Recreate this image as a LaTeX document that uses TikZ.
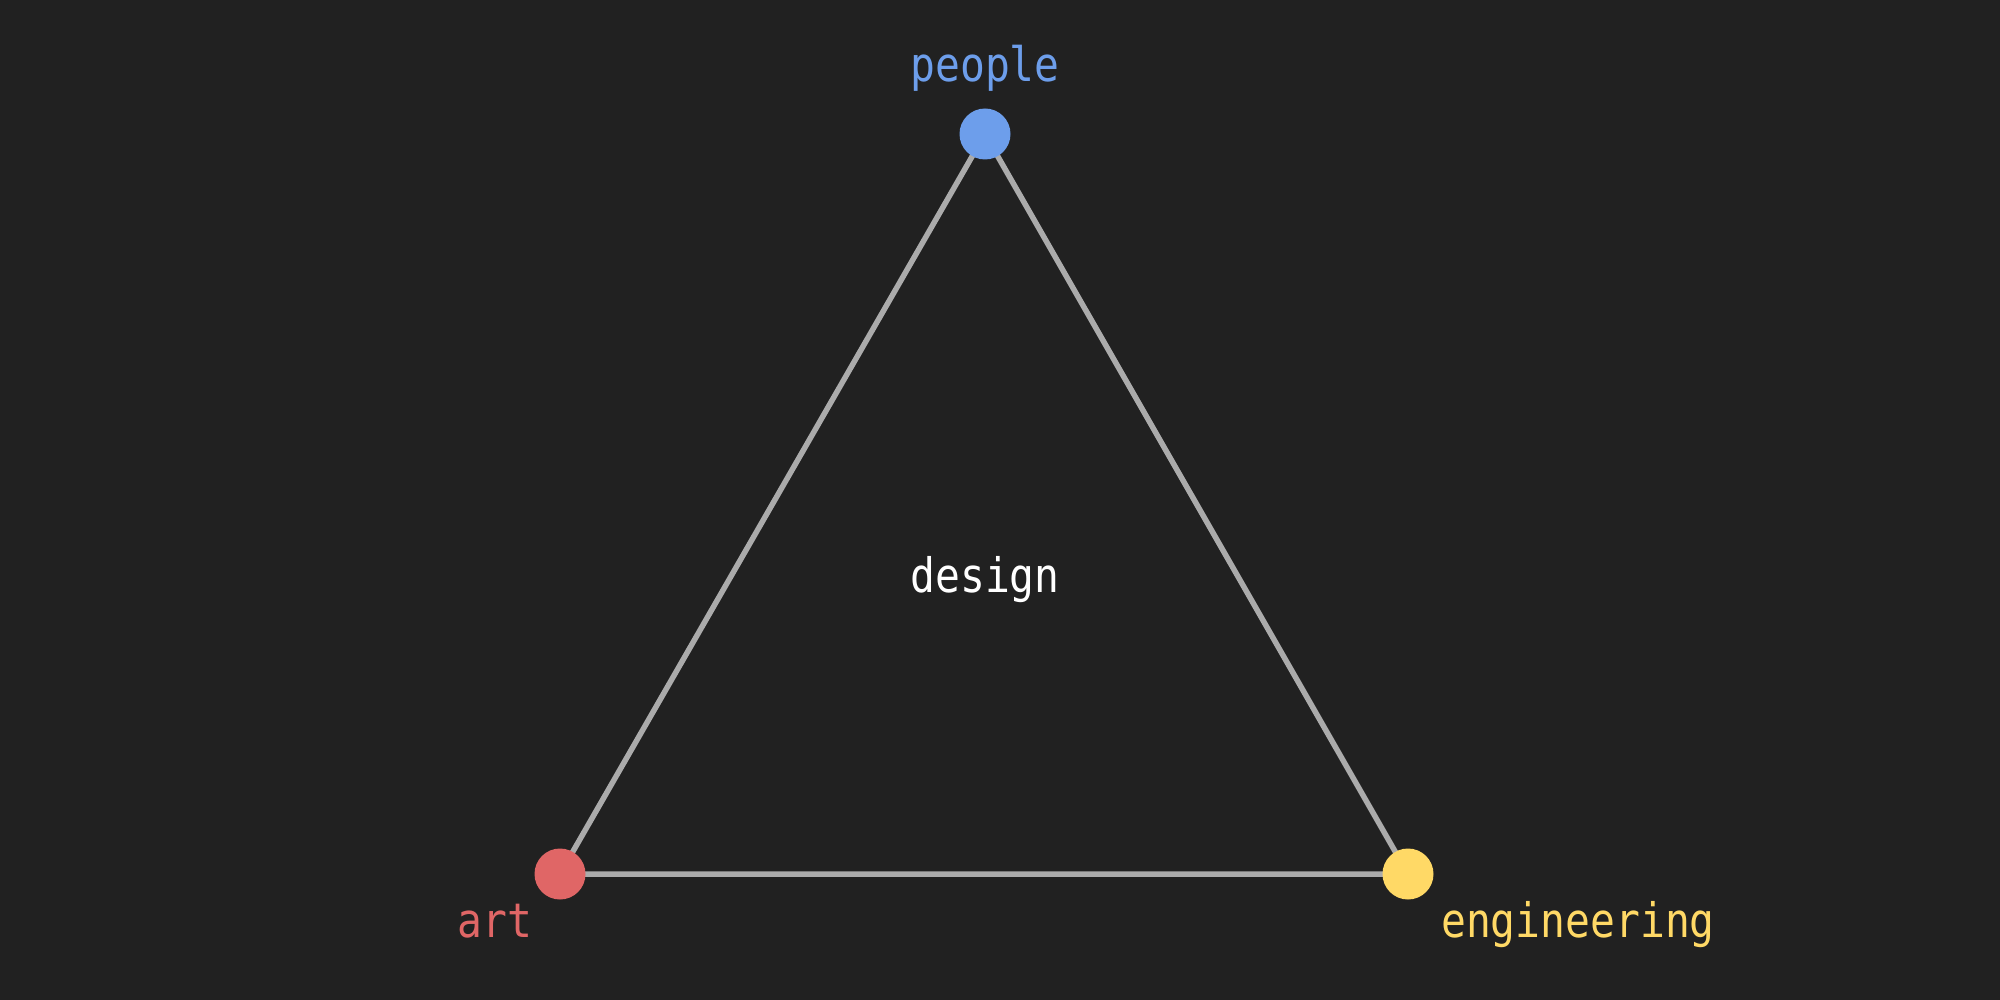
\documentclass[tikz,border=0pt]{standalone}
\usepackage{fontspec}
\newfontfamily\monofont[FakeStretch=0.87]{DejaVu Sans Mono}
\definecolor{bg}{HTML}{212121}
\definecolor{edgec}{HTML}{ABABAB}
\definecolor{cblue}{HTML}{6D9EEB}
\definecolor{cred}{HTML}{E06666}
\definecolor{cyel}{HTML}{FFD966}
\pgfdeclarelayer{edges}
\pgfsetlayers{edges,main}
\tikzset{
  vertex/.style={circle, minimum size=51pt, inner sep=0pt, fill=#1, draw=none},
  lbl/.style={anchor=base, inner sep=0pt, text=#1, font=\monofont\fontsize{47.5}{48}\selectfont},
  edgeline/.style={draw=edgec, line width=5.5pt}
}
\begin{document}
\begin{tikzpicture}[x=1pt,y=-1pt]
\begin{pgfonlayer}{edges}
\fill[bg] (0,0) rectangle (2000,1000);
\end{pgfonlayer}
\useasboundingbox (0,0) rectangle (2000,1000);
\node[vertex=cblue] (people) at (985,134) {};
\node[vertex=cred] (art) at (560,874) {};
\node[vertex=cyel] (eng) at (1408,874) {};
\begin{pgfonlayer}{edges}
\path[edgeline] (art.center) -- (people.center) -- (eng.center) -- cycle;
\end{pgfonlayer}
\node[lbl=cblue] (tpeople) at (985,82) {people};
\node[lbl=cred] (tart) at (495,937) {art};
\node[lbl=cyel, anchor=base west] (teng) at (1441,937) {engineering};
\node[lbl=white] (tdesign) at (985,592) {design};
\end{tikzpicture}
\end{document}
